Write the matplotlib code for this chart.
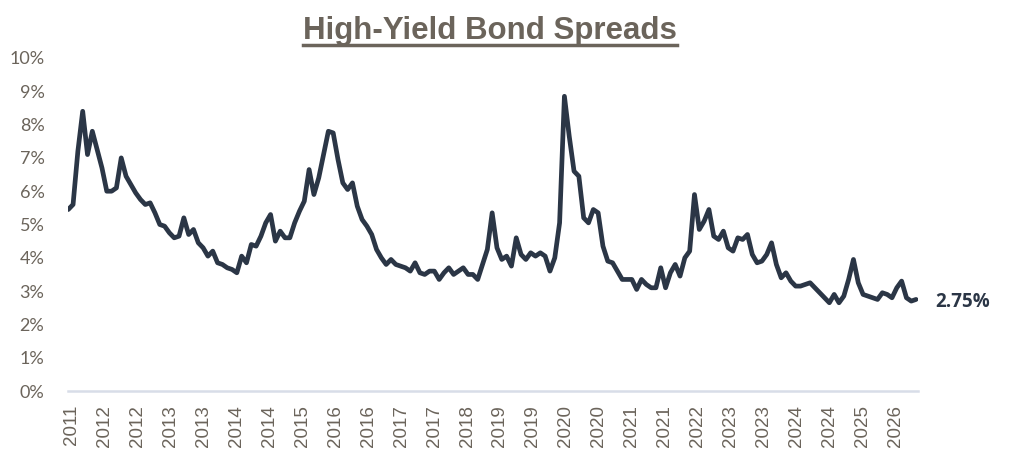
import numpy as np
import matplotlib
matplotlib.use('Agg')
import matplotlib.pyplot as plt
from matplotlib.lines import Line2D

# monthly high-yield spreads (%)
spreads = [
    5.45, 5.6, 7.2, 8.4, 7.1, 7.8, 7.25, 6.7, 6.0, 6.0,
    6.1, 7.0, 6.45, 6.2, 5.95, 5.75, 5.6, 5.65, 5.35, 5.0,
    4.95, 4.75, 4.6, 4.65, 5.2, 4.7, 4.85, 4.45, 4.3, 4.05,
    4.2, 3.85, 3.8, 3.7, 3.65, 3.55, 4.05, 3.85, 4.4, 4.35,
    4.65, 5.05, 5.3, 4.5, 4.8, 4.6, 4.6, 5.05, 5.4, 5.7,
    6.65, 5.9, 6.4, 7.1, 7.8, 7.75, 6.95, 6.25, 6.05, 6.25,
    5.55, 5.15, 4.95, 4.7, 4.25, 4.0, 3.8, 3.95, 3.8, 3.75,
    3.7, 3.6, 3.85, 3.55, 3.5, 3.6, 3.6, 3.35, 3.55, 3.7,
    3.5, 3.6, 3.7, 3.5, 3.5, 3.35, 3.8, 4.25, 5.35, 4.3,
    3.95, 4.05, 3.75, 4.6, 4.1, 3.95, 4.15, 4.05, 4.15, 4.05,
    3.6, 4.0, 5.05, 8.85, 7.65, 6.6, 6.45, 5.2, 5.05, 5.45,
    5.35, 4.35, 3.9, 3.85, 3.6, 3.35, 3.35, 3.35, 3.05, 3.35,
    3.2, 3.1, 3.1, 3.7, 3.1, 3.55, 3.8, 3.45, 4.0, 4.2,
    5.9, 4.85, 5.1, 5.45, 4.65, 4.55, 4.8, 4.3, 4.2, 4.6,
    4.55, 4.7, 4.1, 3.85, 3.9, 4.1, 4.45, 3.8, 3.4, 3.55,
    3.3, 3.15, 3.15, 3.2, 3.25, 3.1, 2.95, 2.8, 2.65, 2.9,
    2.65, 2.85, 3.35, 3.95, 3.25, 2.9, 2.85, 2.8, 2.75, 2.95,
    2.9, 2.8, 3.1, 3.3, 2.8, 2.7, 2.75,
]
year_labels = ['2011', '2012', '2012', '2013', '2013', '2014', '2014', '2015',
               '2016', '2016', '2017', '2017', '2018', '2019', '2019', '2020',
               '2020', '2021', '2021', '2022', '2023', '2023', '2024', '2024',
               '2025', '2026']
last_label = '2.75%'

line_color = '#2b3646'
text_gray = '#6b645b'

fig = plt.figure(figsize=(10.13, 4.73), dpi=100)
ax = fig.add_axes([68 / 1013, 82 / 473, 850 / 1013, 333 / 473])

x = np.arange(len(spreads))
ax.plot(x, spreads, color=line_color, lw=3.4,
        solid_capstyle='round', solid_joinstyle='round')

n = len(spreads)
step = (n - 1) / 25.7
ax.set_xlim(-0.05, n - 1 + 0.4)
ax.set_ylim(0, 10)

ax.set_xticks(np.arange(len(year_labels)) * step + 0.6)
ax.set_xticklabels(year_labels, rotation=90, fontsize=13.5,
                   color=text_gray, family='Liberation Sans')
ax.set_yticks(range(11))
ax.set_yticklabels([f'{v}%' for v in range(11)], fontsize=13,
                   color=text_gray, family='Lato')
ax.tick_params(length=0)
ax.tick_params(axis='y', pad=17)
ax.tick_params(axis='x', pad=10)

for s in ['top', 'right', 'left']:
    ax.spines[s].set_visible(False)
ax.spines['bottom'].set_color('#d8dde8')
ax.spines['bottom'].set_linewidth(1.8)

ax.annotate(last_label, xy=(x[-1], spreads[-1]), xytext=(14, -2),
            textcoords='offset points', va='center', ha='left',
            fontsize=13.5, fontweight='bold', color=line_color,
            family='Open Sans')

title = fig.text(490 / 1013, 1 - 31 / 473, 'High-Yield Bond Spreads',
                 ha='center', va='center', fontsize=22.5, fontweight='bold',
                 color=text_gray, family='Liberation Sans')

# underline the title
fig.canvas.draw()
bb = title.get_window_extent(fig.canvas.get_renderer())
inv = fig.transFigure.inverted()
(x0, y0), (x1, _) = inv.transform([(bb.x0, bb.y0 + 1), (bb.x1, bb.y0 + 1)])
fig.add_artist(Line2D([x0, x1], [y0, y0], transform=fig.transFigure,
                      color=text_gray, lw=2.5))

fig.savefig('out.png', dpi=100)
